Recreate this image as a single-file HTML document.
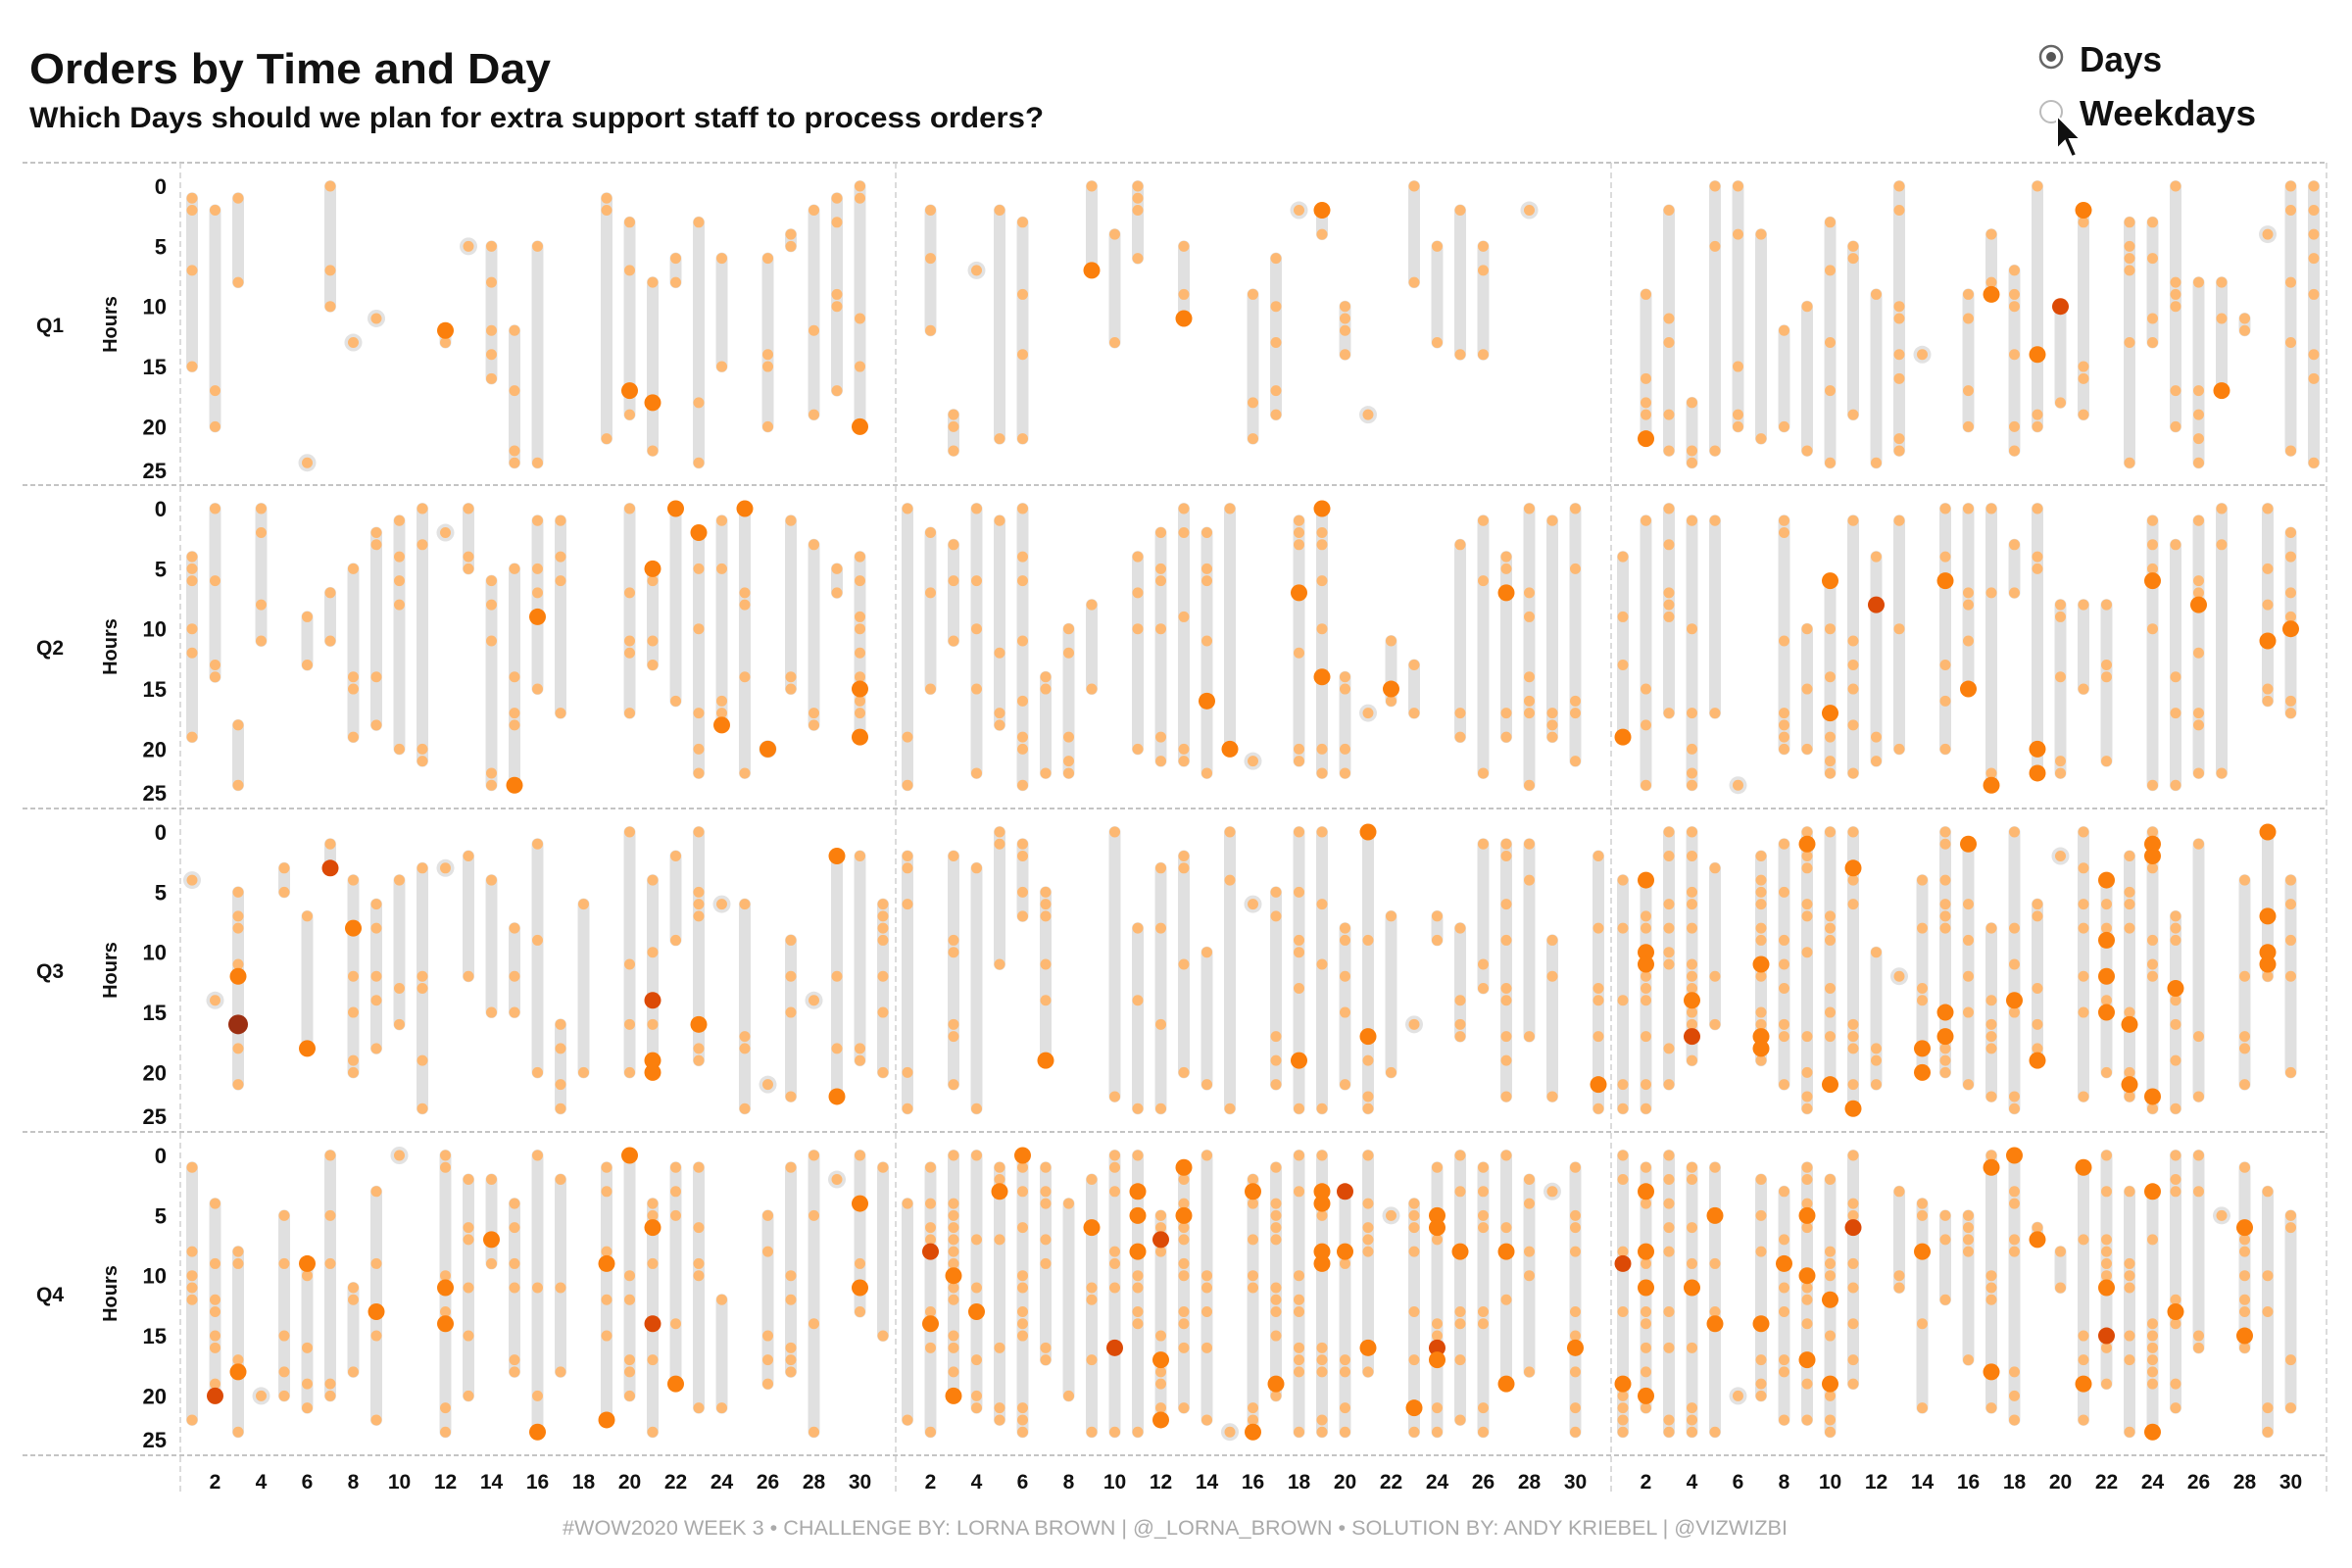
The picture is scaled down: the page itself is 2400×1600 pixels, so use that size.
<!DOCTYPE html>
<html><head><meta charset="utf-8"><title>Orders by Time and Day</title>
<style>
html,body{margin:0;padding:0;background:#fff;}
svg{display:block;font-family:"Liberation Sans",sans-serif;}
</style></head>
<body>
<svg id="chart" width="2400" height="1600" viewBox="0 0 2400 1600" xmlns="http://www.w3.org/2000/svg">
<rect width="2400" height="1600" fill="#fff"/>
<text x="30" y="85" font-size="44" font-weight="bold" fill="#111" textLength="532" lengthAdjust="spacingAndGlyphs">Orders by Time and Day</text>
<text x="30" y="130" font-size="30" font-weight="bold" fill="#111" textLength="1035" lengthAdjust="spacingAndGlyphs">Which Days should we plan for extra support staff to process orders?</text>
<g>
<circle cx="2093" cy="58" r="11" fill="none" stroke="#666" stroke-width="2.5"/>
<circle cx="2093" cy="58" r="5" fill="#555"/>
<text x="2122" y="73" font-size="36" font-weight="bold" fill="#111" textLength="84" lengthAdjust="spacingAndGlyphs">Days</text>
</g>
<g>
<circle cx="2093" cy="114" r="11" fill="none" stroke="#bbb" stroke-width="2"/>
<text x="2122" y="128" font-size="36" font-weight="bold" fill="#111" textLength="180" lengthAdjust="spacingAndGlyphs">Weekdays</text>
</g>
<path d="M2099 118 L2099 152 L2107 144 L2114 160 L2119 158 L2112 142 L2123 142 Z" fill="#111" stroke="#fff" stroke-width="2"/>
<g id="grid"></g>
<g id="marks"></g>
<text x="1199" y="1566" font-size="21" fill="#aaa" text-anchor="middle" textLength="1250" lengthAdjust="spacingAndGlyphs">#WOW2020 WEEK 3 • CHALLENGE BY: LORNA BROWN | @_LORNA_BROWN • SOLUTION BY: ANDY KRIEBEL | @VIZWIZBI</text>
</svg>
<script>
const quarters = ["Q1","Q2","Q3","Q4"];
const hourTicks = [0,5,10,15,20,25];
const dayTicks = [2,4,6,8,10,12,14,16,18,20,22,24,26,28,30];
// each entry "day:hour,hour..." ; B = high-volume hour, D = higher, X = highest
const q1m1 = ["1:1,2,7,15","2:2,17,20","3:1,8","6:23","7:0,7,10","8:13","9:11","12:12B,13","13:5","14:5,8,12,14,16","15:12,17,22,23","16:5,23","19:1,2,21","20:3,7,17B,19","21:8,18B,22","22:6,8","23:3,18,23","24:6,15","26:6,14,15,20","27:4,5","28:2,12,19","29:1,3,9,10,17","30:0,1,11,15,20B"];
const q1m2 = ["2:2,6,12","3:19,20,22","4:7","5:2,21","6:3,9,14,21","9:0,7B","10:4,13","11:0,1,2,6","13:5,9,11B","16:9,18,21","17:6,10,13,17,19","18:2","19:2B,4","20:10,11,12,14","21:19","23:0,8","24:5,13","25:2,14","26:5,7,14","28:2"];
const q1m3 = ["2:9,16,18,19,21B","3:2,11,13,19,22","4:18,22,23","5:0,5,22","6:0,4,15,19,20","7:4,21","8:12,20","9:10,22","10:3,7,13,17,23","11:5,6,19","12:9,23","13:0,2,10,11,14,16,21,22","14:14","16:9,11,17,20","17:4,8,9B","18:7,9,10,14,20,22","19:0,14B,19,20","20:10D,18","21:2B,3,15,16,19","23:3,5,6,7,13,23","24:3,6,11,13","25:0,8,9,10,17,20","26:8,17,19,21,23","27:8,11,17B","28:11,12","29:4","30:0,2,8,13,22","31:0,2,4,6,9,14,16,23"];
const q2m1 = ["1:4,5,6,10,12,19","2:0,6,13,14","3:18,23","4:0,2,8,11","6:9,13","7:7,11","8:5,14,15,19","9:2,3,14,18","10:1,4,6,8,20","11:0,3,20,21","12:2","13:0,4,5","14:6,8,11,22,23","15:5,14,17,18,23B","16:1,5,7,9B,15","17:1,4,6,17","20:0,7,11,12,17","21:5B,6,11,13","22:0B,16","23:2B,5,10,17,20,22","24:1,5,16,17,18B","25:0B,7,8,14,22","26:20B","27:1,14,15","28:3,17,18","29:5,7","30:4,6,9,10,12,14,15B,16,17,19B"];
const q2m2 = ["1:0,19,23","2:2,7,15","3:3,6,11","4:0,6,10,15,22","5:1,12,17,18","6:0,4,6,11,16,19,20,23","7:14,15,22","8:10,12,19,21,22","9:8,15","11:4,7,10,20","12:2,5,6,10,19,21","13:0,2,9,20,21","14:2,5,6,11,16B,22","15:0,20B","16:21","18:1,2,3,7B,12,20,21","19:0B,2,3,6,10,14B,20,22","20:14,15,20,22","21:17","22:11,15B,16","23:13,17","25:3,17,19","26:1,6,22","27:4,5,7B,17,19","28:0,7,9,14,16,17,23","29:1,17,18,19","30:0,5,16,17,21"];
const q2m3 = ["1:4,9,13,19B","2:1,15,18,23","3:0,3,7,8,9,17","4:1,10,17,20,22,23","5:1,17","6:23","8:1,2,11,17,18,19,20","9:10,15,20","10:6B,10,14,17B,19,21,22","11:1,11,13,15,18,22","12:4,8D,19,21","13:1,10,20","15:0,4,6B,13,16,20","16:0,7,8,11,15B","17:0,7,22,23B","18:3,7","19:0,4,5,20B,22B","20:8,9,14,21,22","21:8,15","22:8,13,14,21","24:1,3,5,6B,10,23","25:3,14,17,23","26:1,6,7,8B,12,17,18,22","27:0,3,22","29:0,5,8,11B,15,16","30:2,4,7,9,10B,16,17"];
const q3m1 = ["1:4","2:14","3:5,7,8,11,12B,16X,18,21","5:3,5","6:7,18B","7:1,3D","8:4,8B,12,15,19,20","9:6,8,12,14,18","10:4,13,16","11:3,12,13,19,23","12:3","13:2,12","14:4,15","15:8,12,15","16:1,9,20","17:16,18,21,23","18:6,20","20:0,11,16,20","21:4,10,14D,16,19B,20B","22:2,9","23:0,5,6,7,16B,18,19","24:6","25:6,17,18,23","26:21","27:9,12,15,22","28:14","29:2B,12,18,22B","30:2,18,19","31:6,7,8,9,12,15,20"];
const q3m2 = ["1:2,3,6,20,23","3:2,9,10,16,17,21","4:3,23","5:0,1,11","6:1,2,5,7","7:5,6,7,11,14,19B","10:0,22","11:8,14,23","12:3,8,16,23","13:2,3,11,20","14:10,21","15:0,4,23","16:6","17:5,7,17,19,21","18:0,5,9,10,13,19B,23","19:0,6,11,23","20:8,9,12,15,21","21:0B,9,17B,19,22,23","22:7,20","23:16","24:7,9","25:8,14,16,17","26:1,11,13","27:1,2,6,9,13,14,17,19,22","28:1,4,17","29:9,12,22","31:2,8,13,14,17,21B,23"];
const q3m3 = ["1:4,8,14,21,23","2:4B,7,8,10B,11B,12,13,14,17,21,23","3:0,2,6,8,10,11,18,21","4:0,2,5,6,8,11,12,13,14B,15,16,17D,19","5:3,12,16","7:2,4,5,6,8,9,11B,12,15,16,17B,18B,19","8:1,5,9,11,13,16,17,21","9:0,1B,2,3,6,7,10,17,20,22,23","10:0,7,8,9,13,15,17,21B","11:0,3B,4,6,16,17,18,21,23B","12:10,18,19,21","13:12","14:4,8,13,14,18B,20B","15:0,1,4,6,7,8,15B,17B,18,19,20","16:1B,6,9,12,15,21","17:8,14,16,17,18,22","18:0,8,11,14B,15,22,23","19:6,7,13,16,18,19B","20:2","21:0,3,6,8,12,15,22","22:4B,6,8,9B,12B,14,15B,20","23:2,5,6,8,15,16B,20,21B,22","24:0,1B,2B,3,9,11,12,22B,23","25:7,8,9,13B,14,16,19,23","26:1,17,22","28:4,12,17,18,21","29:0B,7B,10B,11B,12","30:4,6,9,12,20"];
const q4m1 = ["1:1,8,10,11,12,22","2:4,9,12,13,15,16,19,20D","3:8,9,17,18B,23","4:20","5:5,9,15,18,20","6:9B,10,16,19,21","7:0,5,9,19,20","8:11,12,18","9:3,9,13B,15,22","10:0","12:0,1,10,11B,13,14B,21,23","13:2,6,7,11,15,20","14:2,7B,9","15:4,6,9,11,17,18","16:0,11,20,23B","17:2,11,18","19:1,3,8,9B,12,15,22B","20:0B,10,12,17,18,20","21:4,5,6B,9,14D,17,23","22:1,3,5,14,19B","23:1,6,9,10,21","24:12,21","26:5,8,15,17,19","27:1,10,12,16,17,18","28:0,5,14,23","29:2","30:0,4B,9,11B,13","31:1,15"];
const q4m2 = ["1:4,22","2:1,4,6,7,8D,13,14B,16,23","3:0,4,5,6,7,8,9,10B,11,12,15,16,18,20B","4:0,7,11,13B,17,20,21","5:1,2,3B,7,16,21,22","6:0B,1,3,6,10,11,13,14,15,21,22,23","7:1,3,4,7,9,16,17","8:4,20","9:2,6B,11,12,17,23","10:0,1,3,8,9,11,16D,23","11:0,3B,5B,8B,10,11,13,14,23","12:5,6,7D,8,15,17B,18,19,21,22B","13:1B,2,4,5B,6,7,9,10,13,14,16,21","14:0,10,11,13,16,22","15:23","16:2,3B,4,7,10,11,21,22,23B","17:1,4,5,6,7,11,12,13,15,19B,20","18:0,3,10,12,13,16,17,18,23","19:0,3B,4B,5,8B,9B,16,17,18,22,23","20:3D,8B,9,17,18,21,23","21:0,4,6,7,8,16B,18","22:5","23:4,5,6,8,13,17,21B,23","24:1,5B,6B,7,14,15,16D,17B,21,23","25:0,3,8B,13,14,17,22","26:1,3,5,6,13,14,21,23","27:0,6,8B,12,19B","28:2,4,8,10,18","29:3","30:1,5,6,8,13,15,16B,18,21,23"];
const q4m3 = ["1:0,2,8,9D,13,19B,20,21,22,23","2:1,3B,4,8B,9,11B,13,14,16,18,20B,21","3:0,2,4,6,8,13,16,22,23","4:1,2,6,9,11B,16,21,22,23","5:1,5B,9,13,14B,23","6:20","7:2,5,8,14B,17,19,20","8:3,7,9B,11,13,17,18,22","9:1,2,4,5B,6,10B,11,12,14,17B,19,22","10:2,8,9,10,12B,15,19B,20,22,23","11:0,4,5,6D,9,11,14,17,19","13:3,10,11","14:4,5,8B,14,21","15:5,7,12","16:5,6,7,8,17","17:0,1B,10,11,12,18B,21","18:0B,3,4,7,8,18,20,22","19:6,7B","20:8,11","21:1B,7,15,17,19B,22","22:0,3,7,8,9,10,11B,15D,16,19","23:3,9,10,11,15,17,23","24:3B,7,14,15,16,17,18,19,23B","25:0,2,3,12,13B,14,19,21","26:0,3,15,16","27:5","28:1,6B,7,8,10,12,13,15B,16","29:3,10,13,21,23","30:5,6,17,21"];
const panelData = [[q1m1,q1m2,q1m3],[q2m1,q2m2,q2m3],[q3m1,q3m2,q3m3],[q4m1,q4m2,q4m3]];

const NS = "http://www.w3.org/2000/svg";
const rowTops = [166,495,825,1155];
const rowBottom = 1485;
const colLefts = [184,914,1644];
const rightEdge = 2374;
const HOUR_PX = 12.27;
const DAY_PX = 23.5;
function yScale(row, h){ return rowTops[row] + 24 + h*HOUR_PX; }
function xScale(col, d){ return colLefts[col] + 12 + (d-1)*DAY_PX; }
const bigColor = {B:"#fb7f0c", D:"#dc4a06", X:"#9c2f12"};

function mk(tag, attrs, parent){
  const el = document.createElementNS(NS, tag);
  for (const k in attrs) el.setAttribute(k, attrs[k]);
  parent.appendChild(el);
  return el;
}
const grid = document.getElementById("grid");
const marks = document.getElementById("marks");

[...rowTops, rowBottom].forEach((y)=>{
  const l = mk("line",{x1:23,x2:rightEdge,y1:y,y2:y,stroke:"#c4c4c4","stroke-width":2,"stroke-dasharray":"5,3"},grid);
  
  
});
[...colLefts, rightEdge].forEach((x)=>{
  const l = mk("line",{x1:x,x2:x,y1:166,y2:1525,stroke:"#d0d0d0","stroke-width":1.5,"stroke-dasharray":"6,4"},grid);
  
  
});

quarters.forEach((q, r)=>{
  const mid = rowTops[r] + 165;
  const ql = mk("text",{x:37,y:mid+8,"font-size":21,"font-weight":"bold",fill:"#111"},grid);
  ql.textContent = q;
  
  
  const ht = mk("text",{x:0,y:0,"font-size":20,"font-weight":"bold",fill:"#111","text-anchor":"middle",transform:`translate(119,${mid}) rotate(-90)`},grid);
  ht.textContent = "Hours";
  
  
  hourTicks.forEach((h)=>{
    const yy = h === 25 ? rowTops[r] + 314 : yScale(r, h);
    const t = mk("text",{x:170,y:yy+8,"font-size":22,"font-weight":"bold",fill:"#111","text-anchor":"end"},grid);
    t.textContent = String(h);
    
    
  });
});
colLefts.forEach((cl, c)=>{
  dayTicks.forEach((d)=>{
    const t = mk("text",{x:xScale(c,d),y:1519,"font-size":21,"font-weight":"bold",fill:"#111","text-anchor":"middle"},grid);
    t.textContent = String(d);
    
    
  });
});

function parseDay(s){
  const [d, hs] = s.split(":");
  const pts = hs.split(",").map(v=>{
    const m = v.match(/^(\d+)([BDX]?)$/);
    return {h:+m[1], lvl:m[2]};
  });
  return {day:+d, pts};
}
panelData.forEach((rowArr, r)=>{
  rowArr.forEach((arr, c)=>{
    const g = mk("g",{},marks);
    
    
    const parsed = arr.map(parseDay);
    parsed.forEach((p)=>{
      const x = xScale(c, p.day);
      const hs = p.pts.map(o=>o.h);
      const mn = Math.min(...hs), mx = Math.max(...hs);
      if (mx > mn) {
        const bar = mk("rect",{x:x-6,y:yScale(r,mn)-6,width:12,height:yScale(r,mx)-yScale(r,mn)+12,rx:6,fill:"#e0e0e0"},g);
        
        
      } else {
        const halo = mk("circle",{cx:x,cy:yScale(r,mn),r:9,fill:"#e2e2e2"},g);
        
        
      }
    });
    parsed.forEach((p)=>{
      const x = xScale(c, p.day);
      p.pts.filter(o=>!o.lvl).forEach((o)=>{
        const dot = mk("ellipse",{cx:x,cy:yScale(r,o.h),rx:5.5,ry:5.5,fill:"#fdb872"},g);
        
        
      });
    });
    parsed.forEach((p)=>{
      const x = xScale(c, p.day);
      p.pts.filter(o=>o.lvl).forEach((o)=>{
        const rr = o.lvl === "X" ? 10 : 8.5;
        const dot = mk("ellipse",{cx:x,cy:yScale(r,o.h),rx:rr,ry:rr,fill:bigColor[o.lvl]},g);
        
        
      });
    });
  });
});
</script>
</body></html>
